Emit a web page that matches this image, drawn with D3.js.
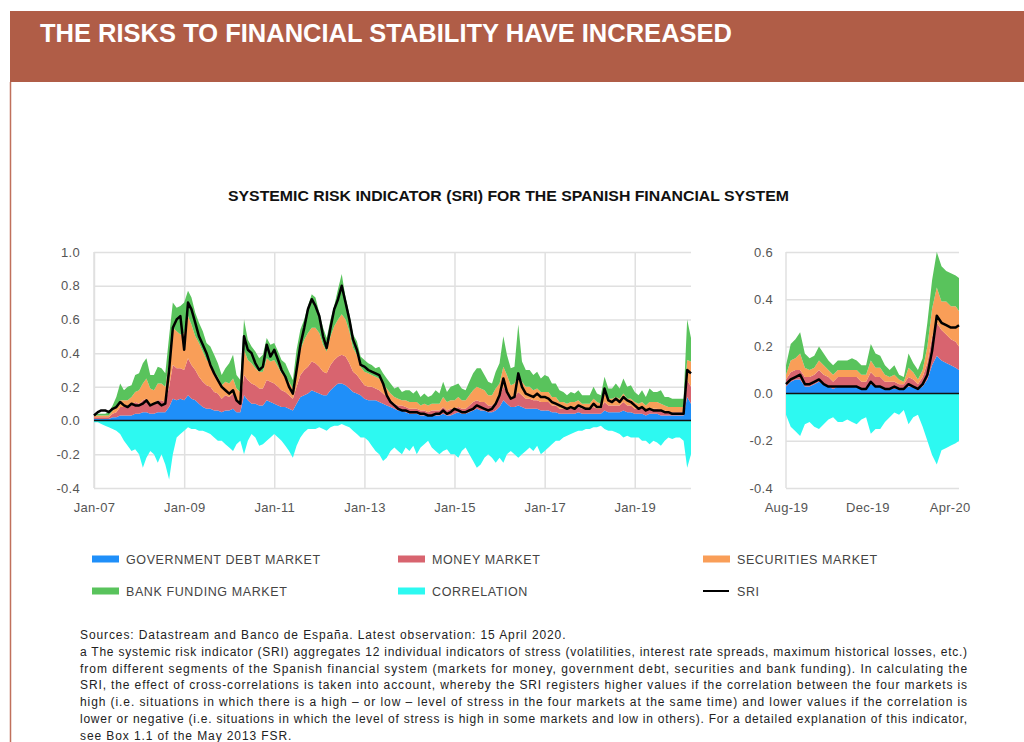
<!DOCTYPE html>
<html>
<head>
<meta charset="utf-8">
<script src="https://cdn.jsdelivr.net/npm/d3@7"></script>
<style>
  body { margin: 0; background: #fff; }
  svg { display: block; }
</style>
</head>
<body>
<div id="chart"></div>
<script>
// left panel: monthly, Jan-07 .. Apr-20
const govL = [
  0.01,0.01,0.01,0.01,0.01,0.02,0.02,0.03,0.03,0.03,0.03,0.04,
  0.04,0.05,0.05,0.04,0.04,0.05,0.05,0.05,0.08,0.13,0.12,0.13,
  0.12,0.15,0.13,0.12,0.10,0.08,0.07,0.07,0.06,0.06,0.05,0.06,
  0.06,0.07,0.05,0.05,0.15,0.12,0.10,0.10,0.09,0.09,0.12,0.11,
  0.10,0.09,0.08,0.08,0.07,0.06,0.10,0.14,0.15,0.16,0.18,0.17,
  0.16,0.15,0.15,0.18,0.20,0.22,0.22,0.21,0.19,0.17,0.16,0.15,
  0.13,0.12,0.12,0.12,0.11,0.10,0.09,0.08,0.07,0.06,0.06,0.05,
  0.04,0.04,0.04,0.03,0.03,0.03,0.03,0.03,0.03,0.04,0.03,0.03,
  0.04,0.05,0.04,0.04,0.05,0.06,0.07,0.06,0.06,0.05,0.05,0.06,
  0.08,0.12,0.10,0.08,0.08,0.09,0.08,0.07,0.07,0.07,0.07,0.06,
  0.06,0.06,0.05,0.05,0.04,0.04,0.04,0.04,0.04,0.05,0.04,0.04,
  0.04,0.04,0.04,0.04,0.06,0.05,0.05,0.05,0.05,0.06,0.05,0.05,
  0.04,0.04,0.04,0.03,0.04,0.04,0.04,0.03,0.03,0.03,0.03,0.03,
  0.03,0.03,0.14,0.10
];
const moneyL = [
  0.01,0.01,0.01,0.01,0.01,0.02,0.03,0.05,0.05,0.05,0.06,0.07,
  0.06,0.07,0.08,0.06,0.06,0.07,0.07,0.06,0.12,0.20,0.19,0.18,
  0.18,0.22,0.20,0.18,0.16,0.15,0.14,0.13,0.11,0.10,0.08,0.09,
  0.08,0.09,0.07,0.06,0.12,0.12,0.12,0.11,0.10,0.10,0.12,0.12,
  0.12,0.11,0.10,0.09,0.08,0.07,0.10,0.13,0.15,0.16,0.17,0.17,
  0.16,0.14,0.13,0.15,0.16,0.16,0.17,0.17,0.15,0.12,0.11,0.09,
  0.08,0.08,0.08,0.07,0.07,0.06,0.05,0.04,0.03,0.03,0.03,0.03,
  0.03,0.03,0.03,0.03,0.03,0.02,0.03,0.03,0.03,0.04,0.03,0.04,
  0.03,0.03,0.03,0.03,0.04,0.05,0.05,0.05,0.05,0.04,0.04,0.05,
  0.06,0.08,0.07,0.06,0.06,0.08,0.07,0.06,0.06,0.05,0.05,0.05,
  0.05,0.05,0.04,0.04,0.03,0.03,0.03,0.03,0.03,0.03,0.03,0.03,
  0.03,0.04,0.03,0.03,0.05,0.04,0.04,0.04,0.04,0.05,0.04,0.04,
  0.03,0.03,0.03,0.03,0.03,0.03,0.03,0.03,0.03,0.02,0.02,0.02,
  0.02,0.02,0.10,0.10
];
const secL = [
  0.01,0.01,0.01,0.01,0.01,0.02,0.03,0.04,0.04,0.04,0.05,0.06,
  0.08,0.10,0.12,0.09,0.08,0.10,0.10,0.09,0.15,0.22,0.22,0.20,
  0.22,0.25,0.24,0.20,0.20,0.18,0.15,0.14,0.12,0.10,0.08,0.08,
  0.08,0.09,0.07,0.06,0.15,0.12,0.12,0.10,0.10,0.10,0.13,0.12,
  0.14,0.12,0.10,0.09,0.08,0.06,0.12,0.15,0.18,0.20,0.20,0.21,
  0.20,0.16,0.13,0.17,0.20,0.22,0.24,0.22,0.19,0.14,0.12,0.08,
  0.08,0.08,0.07,0.07,0.07,0.06,0.05,0.04,0.04,0.04,0.03,0.04,
  0.04,0.04,0.04,0.03,0.04,0.04,0.04,0.04,0.04,0.06,0.05,0.05,
  0.05,0.06,0.05,0.05,0.06,0.07,0.08,0.08,0.07,0.06,0.06,0.08,
  0.08,0.12,0.10,0.07,0.08,0.10,0.08,0.07,0.07,0.06,0.07,0.06,
  0.06,0.06,0.05,0.05,0.04,0.04,0.03,0.04,0.04,0.04,0.03,0.03,
  0.03,0.05,0.04,0.03,0.05,0.04,0.04,0.05,0.04,0.05,0.04,0.04,
  0.04,0.03,0.04,0.03,0.04,0.04,0.04,0.04,0.03,0.03,0.03,0.03,
  0.03,0.03,0.12,0.15
];
const bankL = [
  0.01,0.01,0.01,0.01,0.02,0.03,0.06,0.10,0.06,0.08,0.07,0.10,
  0.10,0.12,0.12,0.08,0.09,0.10,0.09,0.08,0.15,0.15,0.14,0.17,
  0.18,0.15,0.16,0.14,0.12,0.12,0.10,0.10,0.10,0.08,0.06,0.08,
  0.12,0.14,0.08,0.07,0.18,0.12,0.10,0.10,0.08,0.10,0.12,0.10,
  0.10,0.09,0.08,0.08,0.06,0.05,0.10,0.12,0.12,0.16,0.20,0.18,
  0.12,0.10,0.08,0.10,0.12,0.18,0.24,0.13,0.10,0.08,0.08,0.06,
  0.07,0.06,0.06,0.05,0.07,0.06,0.06,0.06,0.05,0.07,0.05,0.06,
  0.07,0.05,0.07,0.05,0.06,0.05,0.05,0.08,0.06,0.09,0.06,0.08,
  0.09,0.08,0.07,0.06,0.08,0.10,0.11,0.12,0.09,0.08,0.07,0.10,
  0.12,0.18,0.12,0.10,0.10,0.30,0.12,0.10,0.10,0.09,0.10,0.08,
  0.10,0.09,0.08,0.08,0.07,0.06,0.05,0.06,0.05,0.06,0.05,0.05,
  0.05,0.07,0.05,0.05,0.10,0.06,0.06,0.08,0.06,0.09,0.07,0.08,
  0.06,0.05,0.07,0.05,0.08,0.06,0.06,0.08,0.05,0.06,0.05,0.05,
  0.05,0.05,0.24,0.14
];
const corrL = [
  -0.01,-0.01,-0.02,-0.03,-0.04,-0.05,-0.06,-0.08,-0.12,-0.15,-0.18,-0.17,
  -0.20,-0.28,-0.22,-0.18,-0.20,-0.25,-0.20,-0.26,-0.35,-0.20,-0.10,-0.08,
  -0.06,-0.04,-0.05,-0.05,-0.06,-0.06,-0.07,-0.08,-0.10,-0.12,-0.12,-0.14,
  -0.16,-0.18,-0.14,-0.12,-0.20,-0.12,-0.08,-0.10,-0.15,-0.14,-0.12,-0.10,
  -0.08,-0.10,-0.12,-0.15,-0.18,-0.22,-0.15,-0.10,-0.07,-0.05,-0.05,-0.05,
  -0.04,-0.05,-0.06,-0.04,-0.03,-0.03,-0.02,-0.03,-0.04,-0.06,-0.08,-0.10,
  -0.10,-0.12,-0.15,-0.18,-0.20,-0.24,-0.22,-0.18,-0.16,-0.18,-0.20,-0.16,
  -0.18,-0.15,-0.20,-0.16,-0.14,-0.12,-0.16,-0.18,-0.20,-0.18,-0.17,-0.20,
  -0.20,-0.22,-0.18,-0.16,-0.20,-0.24,-0.28,-0.26,-0.22,-0.20,-0.22,-0.25,
  -0.22,-0.25,-0.20,-0.18,-0.20,-0.22,-0.20,-0.18,-0.16,-0.18,-0.15,-0.20,
  -0.18,-0.16,-0.14,-0.12,-0.12,-0.10,-0.09,-0.08,-0.07,-0.06,-0.06,-0.05,
  -0.05,-0.04,-0.04,-0.03,-0.05,-0.06,-0.06,-0.07,-0.08,-0.10,-0.09,-0.10,
  -0.10,-0.10,-0.12,-0.12,-0.14,-0.12,-0.13,-0.15,-0.12,-0.10,-0.11,-0.10,
  -0.10,-0.12,-0.28,-0.20
];
const sriL = [
  0.03,0.05,0.06,0.06,0.05,0.07,0.08,0.11,0.09,0.08,0.10,0.09,
  0.09,0.10,0.12,0.09,0.10,0.11,0.09,0.10,0.30,0.55,0.60,0.62,
  0.42,0.70,0.66,0.58,0.50,0.45,0.40,0.33,0.28,0.24,0.20,0.18,
  0.16,0.18,0.12,0.10,0.50,0.42,0.40,0.34,0.30,0.32,0.45,0.38,
  0.42,0.36,0.30,0.26,0.20,0.16,0.30,0.45,0.55,0.66,0.72,0.68,
  0.62,0.50,0.43,0.55,0.66,0.72,0.80,0.70,0.60,0.48,0.42,0.33,
  0.32,0.30,0.29,0.28,0.27,0.22,0.15,0.11,0.09,0.07,0.06,0.06,
  0.05,0.05,0.05,0.04,0.04,0.03,0.03,0.04,0.04,0.06,0.04,0.05,
  0.07,0.06,0.05,0.05,0.06,0.07,0.09,0.08,0.07,0.06,0.07,0.10,
  0.15,0.25,0.17,0.13,0.14,0.28,0.20,0.16,0.15,0.14,0.16,0.14,
  0.14,0.13,0.11,0.10,0.09,0.08,0.07,0.08,0.07,0.09,0.08,0.07,
  0.07,0.10,0.08,0.08,0.19,0.12,0.11,0.13,0.11,0.14,0.12,0.11,
  0.09,0.07,0.08,0.06,0.07,0.06,0.06,0.06,0.05,0.05,0.04,0.04,
  0.04,0.04,0.30,0.28
];

// right panel: weekly, Aug-19 .. 15 Apr 2020
const govR   = [0.03,0.05,0.06,0.06,0.03,0.03,0.04,0.05,0.04,0.03,0.02,0.03,0.03,0.03,0.03,0.03,0.02,0.02,0.04,0.03,0.03,0.02,0.02,0.02,0.02,0.02,0.03,0.03,0.02,0.03,0.06,0.12,0.16,0.14,0.13,0.12,0.11,0.10];
const moneyR = [0.03,0.04,0.04,0.04,0.04,0.04,0.04,0.05,0.04,0.04,0.03,0.04,0.04,0.04,0.04,0.04,0.03,0.03,0.05,0.04,0.04,0.03,0.03,0.03,0.02,0.02,0.04,0.03,0.02,0.04,0.07,0.12,0.14,0.13,0.12,0.11,0.11,0.10];
const secR   = [0.02,0.05,0.05,0.07,0.04,0.03,0.03,0.04,0.04,0.03,0.03,0.03,0.03,0.03,0.03,0.03,0.03,0.03,0.05,0.04,0.04,0.03,0.02,0.03,0.02,0.01,0.04,0.03,0.02,0.03,0.07,0.12,0.15,0.12,0.14,0.14,0.15,0.15];
const bankR  = [0.04,0.07,0.08,0.09,0.06,0.05,0.05,0.06,0.05,0.04,0.04,0.04,0.04,0.04,0.05,0.04,0.04,0.04,0.07,0.06,0.05,0.04,0.03,0.04,0.02,0.02,0.06,0.04,0.04,0.05,0.10,0.12,0.15,0.15,0.13,0.14,0.13,0.14];
const corrR  = [-0.09,-0.14,-0.16,-0.18,-0.13,-0.12,-0.14,-0.15,-0.13,-0.11,-0.10,-0.12,-0.12,-0.11,-0.12,-0.13,-0.11,-0.10,-0.17,-0.15,-0.15,-0.12,-0.10,-0.08,-0.09,-0.07,-0.13,-0.10,-0.09,-0.14,-0.20,-0.26,-0.30,-0.24,-0.23,-0.22,-0.21,-0.20];
const sriR   = [0.04,0.06,0.07,0.08,0.04,0.04,0.05,0.06,0.04,0.03,0.03,0.03,0.03,0.03,0.03,0.03,0.02,0.02,0.05,0.03,0.03,0.02,0.02,0.03,0.02,0.02,0.04,0.03,0.02,0.04,0.08,0.18,0.33,0.30,0.29,0.28,0.28,0.29];

const yTicksL = [-0.4, -0.2, 0, 0.2, 0.4, 0.6, 0.8, 1.0];
const yTicksR = [-0.4, -0.2, 0, 0.2, 0.4, 0.6];
const xTicksL = [2007, 2009, 2011, 2013, 2015, 2017, 2019].map(y => new Date(y, 0, 1));
const xTicksR = [new Date(2019, 7, 2), new Date(2019, 11, 1), new Date(2020, 3, 1)];

const keys = ["gov", "money", "sec", "bank"];
const colors = { gov: "#1f8ff9", money: "#d8646f", sec: "#f99e58", bank: "#59c35c", corr: "#2df9f1" };

const legendItems = [
  { label: "GOVERNMENT DEBT MARKET", key: "gov" },
  { label: "MONEY MARKET", key: "money" },
  { label: "SECURITIES MARKET", key: "sec" },
  { label: "BANK FUNDING MARKET", key: "bank" },
  { label: "CORRELATION", key: "corr" },
  { label: "SRI", key: "sri" }
];

const notes = [
  "Sources: Datastream and Banco de España. Latest observation: 15 April 2020.",
  "a The systemic risk indicator (SRI) aggregates 12 individual indicators of stress (volatilities, interest rate spreads, maximum historical losses, etc.)",
  "from different segments of the Spanish financial system (markets for money, government debt, securities and bank funding). In calculating the",
  "SRI, the effect of cross-correlations is taken into account, whereby the SRI registers higher values if the correlation between the four markets is",
  "high (i.e. situations in which there is a high – or low – level of stress in the four markets at the same time) and lower values if the correlation is",
  "lower or negative (i.e. situations in which the level of stress is high in some markets and low in others). For a detailed explanation of this indicator,",
  "see Box 1.1 of the May 2013 FSR."
];

const datesL = d3.timeMonth.range(new Date(2007, 0, 1), new Date(2020, 4, 1));
const datesR = d3.range(37).map(k => d3.timeDay.offset(new Date(2019, 7, 2), 7 * k));
datesR.push(new Date(2020, 3, 15));

const font = "'Liberation Sans', Arial, sans-serif";
const fmtY = d => d.toFixed(1);

const svg = d3.select("#chart").append("svg")
  .attr("width", 1024)
  .attr("height", 742);

// header band
svg.append("rect")
  .attr("x", 10).attr("y", 11)
  .attr("width", 1014).attr("height", 71)
  .attr("fill", "#b05d47");
svg.append("line")
  .attr("x1", 10.5).attr("x2", 10.5)
  .attr("y1", 82).attr("y2", 742)
  .attr("stroke", "#c0705b").attr("stroke-width", 1.5);
svg.append("text")
  .attr("x", 40).attr("y", 42)
  .attr("fill", "#fff")
  .style("font-family", "'Liberation Sans Narrow', 'Liberation Sans', Arial, sans-serif")
  .style("font-weight", "bold")
  .style("font-size", "26px")
  .attr("textLength", 692)
  .attr("lengthAdjust", "spacingAndGlyphs")
  .text("THE RISKS TO FINANCIAL STABILITY HAVE INCREASED");

svg.append("text")
  .attr("x", 228).attr("y", 201)
  .attr("fill", "#111")
  .style("font-family", "'Liberation Sans Narrow', 'Liberation Sans', Arial, sans-serif")
  .style("font-weight", "bold")
  .style("font-size", "14.5px")
  .attr("textLength", 561)
  .attr("lengthAdjust", "spacingAndGlyphs")
  .text("SYSTEMIC RISK INDICATOR (SRI) FOR THE SPANISH FINANCIAL SYSTEM");

function styleAxis(g) {
  g.select(".domain").remove();
  g.selectAll(".tick line").attr("stroke", "#e0e0e0").attr("stroke-width", 1.5);
  g.selectAll(".tick text")
    .attr("fill", "#555")
    .style("font-family", font)
    .style("font-size", "13px")
    .style("letter-spacing", "0.3px");
}

function panel(dates, series, x, y, yTicks, opts) {
  const g = svg.append("g");
  const [x0, x1] = x.range();
  const [yb, yt] = y.range();

  g.append("g")
    .attr("transform", `translate(${x0},0)`)
    .call(d3.axisLeft(y).tickValues(yTicks).tickFormat(fmtY).tickSize(-(x1 - x0)).tickPadding(opts.yPad))
    .call(styleAxis);

  const xAxis = d3.axisBottom(x).tickValues(opts.xTicks).tickFormat(d3.timeFormat("%b-%y"))
    .tickSize(opts.vGrid ? -(yb - yt) : 0).tickPadding(15);
  g.append("g")
    .attr("transform", `translate(0,${yb})`)
    .call(xAxis)
    .call(styleAxis);

  // left axis line
  g.append("line")
    .attr("x1", x0).attr("x2", x0).attr("y1", yt).attr("y2", yb)
    .attr("stroke", "#e0e0e0").attr("stroke-width", 1.5);

  const rows = dates.map((d, i) => ({
    date: d, gov: series.gov[i], money: series.money[i], sec: series.sec[i],
    bank: series.bank[i], corr: series.corr[i], sri: series.sri[i]
  }));

  const stacked = d3.stack().keys(keys)(rows);
  const area = d3.area()
    .x(d => x(d.data.date))
    .y0(d => y(d[0]))
    .y1(d => y(d[1]));

  g.selectAll(".layer")
    .data(stacked)
    .join("path")
    .attr("class", "layer")
    .attr("fill", d => colors[d.key])
    .attr("d", area);

  g.append("path")
    .datum(rows)
    .attr("fill", colors.corr)
    .attr("d", d3.area().x(d => x(d.date)).y0(y(0)).y1(d => y(d.corr)));

  g.append("line")
    .attr("x1", x0).attr("x2", x1).attr("y1", y(0)).attr("y2", y(0))
    .attr("stroke", "#111").attr("stroke-width", 1.5);

  g.append("path")
    .datum(rows)
    .attr("fill", "none")
    .attr("stroke", "#000")
    .attr("stroke-width", 2.5)
    .attr("stroke-linejoin", "round")
    .attr("d", d3.line().x(d => x(d.date)).y(d => y(d.sri)));
}

const xL = d3.scaleTime().domain([new Date(2007, 0, 1), new Date(2020, 3, 1)]).range([94, 691]);
const yL = d3.scaleLinear().domain([-0.4, 1.0]).range([488, 252]);
panel(datesL, { gov: govL, money: moneyL, sec: secL, bank: bankL, corr: corrL, sri: sriL }, xL, yL, yTicksL,
  { yPad: 14, vGrid: true, xTicks: xTicksL });

const xR = d3.scaleTime().domain([new Date(2019, 7, 2), new Date(2020, 3, 15)]).range([786, 959]);
const yR = d3.scaleLinear().domain([-0.4, 0.6]).range([488, 252]);
panel(datesR, { gov: govR, money: moneyR, sec: secR, bank: bankR, corr: corrR, sri: sriR }, xR, yR, yTicksR,
  { yPad: 13, vGrid: false, xTicks: xTicksR });

// legend
const legX = [92, 398, 703];
const legY = [559, 591];
const leg = svg.append("g").selectAll("g")
  .data(legendItems)
  .join("g")
  .attr("transform", (d, i) => `translate(${legX[i % 3]},${legY[Math.floor(i / 3)]})`);
leg.filter(d => d.key !== "sri").append("rect")
  .attr("x", 0).attr("y", -3.5).attr("width", 27).attr("height", 7)
  .attr("fill", d => colors[d.key]);
leg.filter(d => d.key === "sri").append("line")
  .attr("x1", 0).attr("x2", 26).attr("y1", 0).attr("y2", 0)
  .attr("stroke", "#000").attr("stroke-width", 2);
leg.append("text")
  .attr("x", 34).attr("y", 4.5)
  .attr("fill", "#444")
  .style("font-family", font)
  .style("font-size", "12.5px")
  .style("letter-spacing", "0.6px")
  .text(d => d.label);

// notes
svg.append("g").selectAll("text")
  .data(notes)
  .join("text")
  .attr("x", 80)
  .attr("y", (d, i) => 639 + i * 16.8)
  .attr("fill", "#222")
  .style("font-family", font)
  .style("font-size", "12px")
  .style("letter-spacing", "0.9px")
  .each(function (d, i) {
    if (i > 0 && i < notes.length - 1) {
      d3.select(this).attr("textLength", 888).attr("lengthAdjust", "spacing");
    }
  })
  .text(d => d);
</script>
</body>
</html>
